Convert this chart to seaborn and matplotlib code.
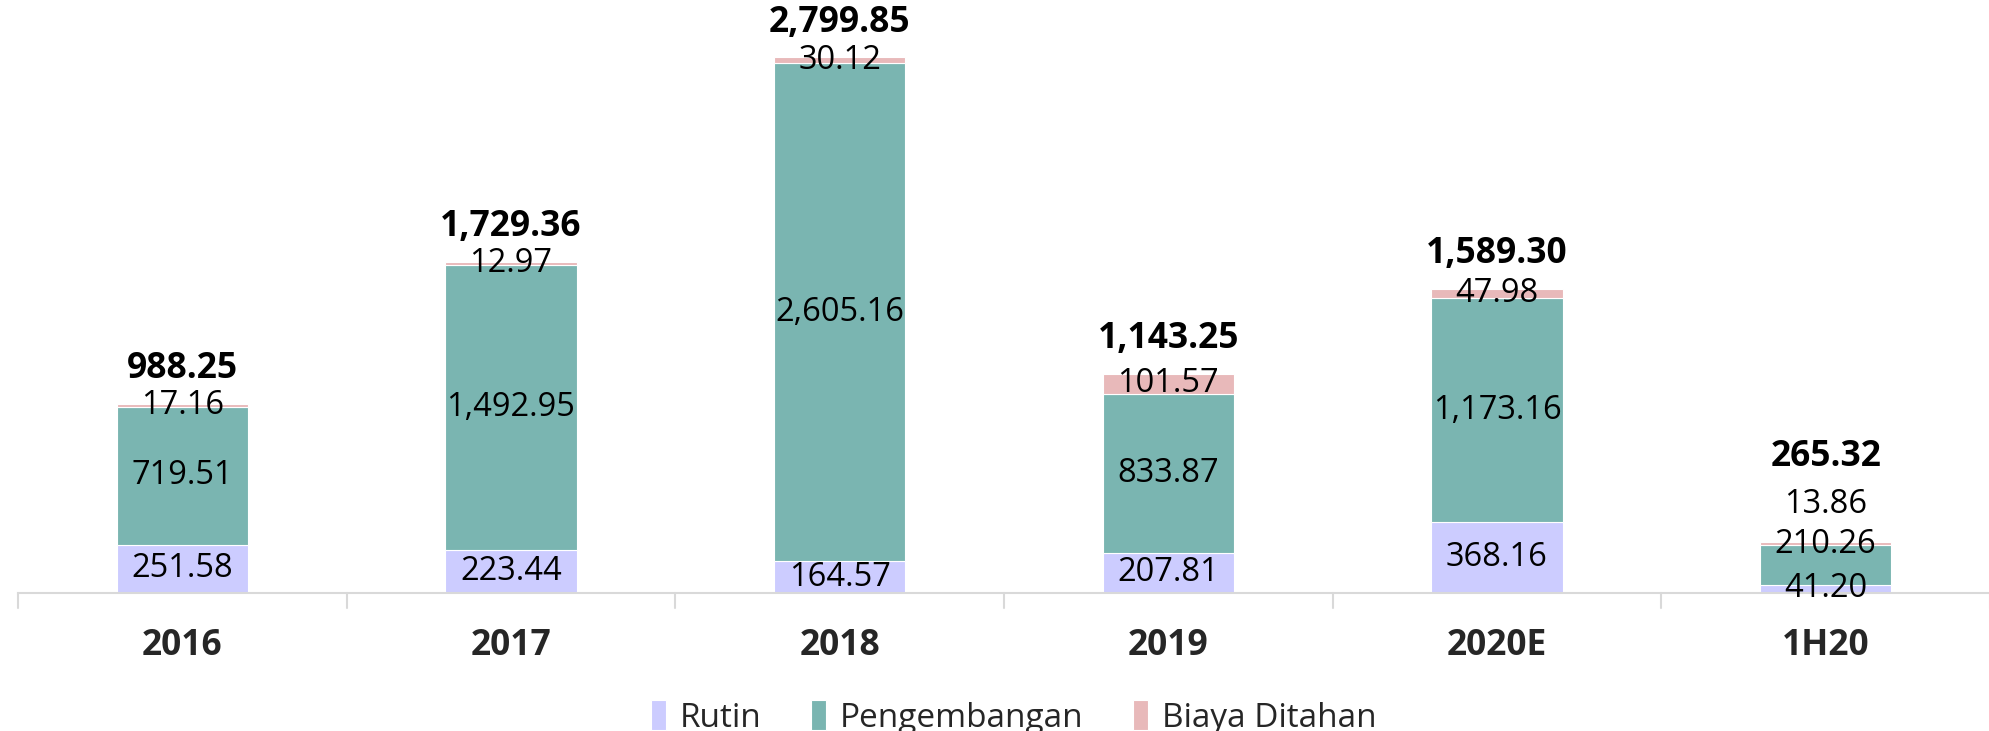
import numpy as np
import matplotlib
matplotlib.use("Agg")
import matplotlib.pyplot as plt
import seaborn as sns

# --- data ---
periods = ["2016", "2017", "2018", "2019", "2020E", "1H20"]
rutin = [251.58, 223.44, 164.57, 207.81, 368.16, 41.20]
pengembangan = [719.51, 1492.95, 2605.16, 833.87, 1173.16, 210.26]
biaya_ditahan = [17.16, 12.97, 30.12, 101.57, 47.98, 13.86]
totals = [988.25, 1729.36, 2799.85, 1143.25, 1589.30, 265.32]

series_names = ["Rutin", "Pengembangan", "Biaya Ditahan"]
colors = ["#ccccff", "#7ab5b1", "#e8b9ba"]

sns.set_theme(style="white")
plt.rcParams["font.family"] = ["Open Sans", "DejaVu Sans"]

fig = plt.figure(figsize=(19.9, 7.31), dpi=100)
ax = fig.add_axes([0.009, 0.189, 0.991, 0.811])

layers = [rutin, pengembangan, biaya_ditahan]
bottom = np.zeros(len(periods))
for vals, name, col in zip(layers, series_names, colors):
    sns.barplot(x=periods, y=vals, bottom=bottom, color=col, width=0.4, saturation=1,
                label=name, edgecolor="white", linewidth=0.8, ax=ax)
    bottom = bottom + np.array(vals)

# segment labels; the thin 1H20 segments sit above their bars as in the original
fs = 23.5
fs_bold = 25.5
base = np.zeros(len(periods))
for li, vals in enumerate(layers):
    for i, v in enumerate(vals):
        y, dy = base[i] + v / 2, 0
        if (i, li) == (5, 1):
            y = base[i] + v
        elif (i, li) == (5, 2):
            y, dy = base[i] + v, 27
        ax.annotate(f"{v:,.2f}", (i, y), xytext=(0, dy), textcoords="offset points",
                    ha="center", va="center", fontsize=fs, color="black")
    base = base + np.array(vals)

for i, t in enumerate(totals):
    dy = 61 if i == 5 else 25
    ax.annotate(f"{t:,.2f}", (i, base[i]), xytext=(0, dy), textcoords="offset points",
                ha="center", va="center", fontsize=fs_bold, fontweight="bold", color="black")

ax.set_ylim(0, 3100)
ax.set_xlim(-0.5, 5.5)
ax.set_yticks([])
ax.set_ylabel("")
for s in ["top", "right", "left"]:
    ax.spines[s].set_visible(False)
ax.spines["bottom"].set_color("#d9d9d9")
ax.spines["bottom"].set_linewidth(1.5)

ax.set_xticks(range(len(periods)))
ax.set_xticklabels(periods, fontsize=fs_bold, fontweight="bold")
ax.tick_params(axis="x", length=0, pad=25)
for b in np.arange(-0.5, 6.0, 1.0):
    ax.plot([b, b], [0, -0.026], transform=ax.get_xaxis_transform(),
            color="#d9d9d9", lw=1.5, clip_on=False)

ax.legend(loc="center", bbox_to_anchor=(0.505, -0.21), ncol=3, frameon=False,
          fontsize=24, handlelength=0.45, handleheight=1.0, handletextpad=0.4,
          columnspacing=1.5)

fig.savefig("out.png", dpi=100)
